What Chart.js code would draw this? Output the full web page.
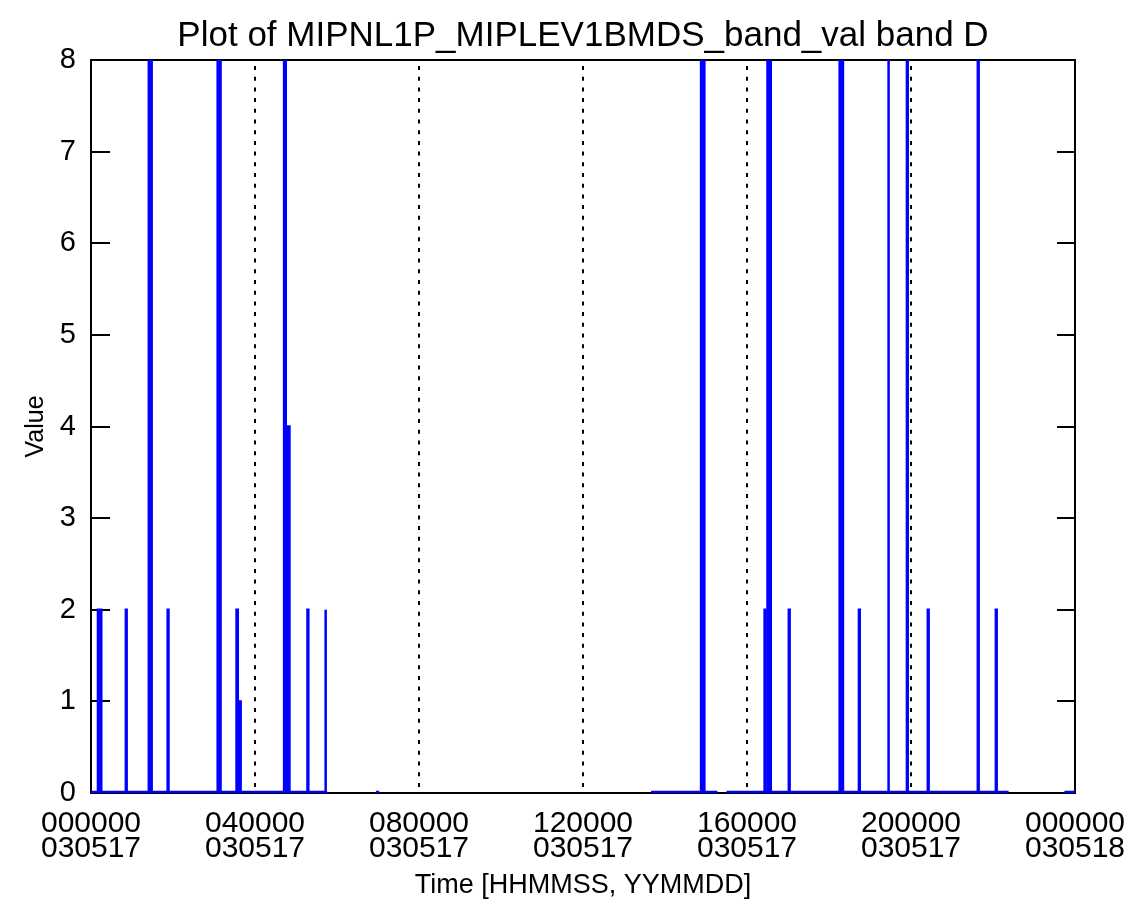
<!DOCTYPE html>
<html>
<head>
<meta charset="utf-8">
<title>MIPNL1P_MIPLEV1BMDS_band_val band D</title>
<script src="https://cdn.jsdelivr.net/npm/chart.js@4/dist/chart.umd.min.js"></script>
<style>
  html, body { margin: 0; padding: 0; background: #fff; }
  canvas { display: block; }
</style>
</head>
<body>
<canvas id="bandChart" width="1135" height="907"></canvas>
<script>
// time of day in hours (030517), null = no data
const hours = [
  0, 0.17, 0.17, 0.25, 0.25, 0.85, 0.85, 0.87, 0.87, 1.41, 1.41, 1.48, 1.48,
  1.87, 1.87, 1.89, 1.89, 3.09, 3.09, 3.16, 3.16, 3.55, 3.55, 3.58, 3.58, 3.65, 3.65,
  4.71, 4.71, 4.75, 4.75, 4.84, 4.84, 5.28, 5.28, 5.30, 5.30, 5.71, 5.71, 5.73, 5.73, 5.76,
  null,
  6.95, 7.03,
  null,
  13.66, 14.88, 14.88, 14.96, 14.96, 15.28,
  null,
  15.50, 16.43, 16.43, 16.45, 16.45, 16.50, 16.50, 16.58, 16.58,
  17.02, 17.02, 17.04, 17.04, 18.26, 18.26, 18.34, 18.34, 18.73, 18.73, 18.75, 18.75,
  19.44, 19.44, 19.46, 19.46, 19.90, 19.90, 19.92, 19.92, 20.41, 20.41, 20.43, 20.43,
  21.63, 21.63, 21.65, 21.65, 22.07, 22.07, 22.09, 22.09, 22.38,
  null,
  23.74, 24
];
const bandValues = [
  0, 0, 2, 2, 0, 0, 2, 2, 0, 0, 8, 8, 0,
  0, 2, 2, 0, 0, 8, 8, 0, 0, 2, 2, 1, 1, 0,
  0, 8, 8, 4, 4, 0, 0, 2, 2, 0, 0, 2, 2, 0, 0,
  null,
  0, 0,
  null,
  0, 0, 8, 8, 0, 0,
  null,
  0, 0, 2, 2, 0, 0, 8, 8, 0,
  0, 2, 2, 0, 0, 8, 8, 0, 0, 2, 2, 0,
  0, 8, 8, 0, 0, 8, 8, 0, 0, 2, 2, 0,
  0, 8, 8, 0, 0, 2, 2, 0, 0,
  null,
  0, 0
];
const xTickLabels = [
  ['000000', '030517'], ['040000', '030517'], ['080000', '030517'], ['120000', '030517'],
  ['160000', '030517'], ['200000', '030517'], ['000000', '030518']
];
const markerHours = [4, 8, 12, 16, 20];

const FONT = "'Liberation Sans', Arial, sans-serif";
Chart.defaults.font.family = FONT;
Chart.defaults.color = '#000';

// box, inward y ticks and the dotted time markers
const frameMarks = {
  id: 'frameMarks',
  beforeDatasetsDraw(chart) {
    const { ctx, chartArea: a, scales: { x, y } } = chart;
    ctx.save();
    ctx.strokeStyle = '#000';
    ctx.lineWidth = 2;
    ctx.setLineDash([4, 6.7]);
    markerHours.forEach(h => {
      const px = Math.round(x.getPixelForValue(h));
      ctx.beginPath();
      ctx.moveTo(px, a.top + 6);
      ctx.lineTo(px, a.bottom - 6);
      ctx.stroke();
    });
    ctx.setLineDash([]);
    ctx.strokeRect(a.left, a.top, a.right - a.left, a.bottom - a.top);
    ctx.beginPath();
    y.ticks.forEach(t => {
      const py = Math.round(y.getPixelForValue(t.value));
      ctx.moveTo(a.left, py); ctx.lineTo(a.left + 19, py);
      ctx.moveTo(a.right, py); ctx.lineTo(a.right - 18, py);
    });
    ctx.stroke();
    ctx.restore();
  }
};

// the flat zero stretches look heavier than the spikes in the original
const onBaseline = c => c.p0.parsed.y === 0 && c.p1.parsed.y === 0;

new Chart(document.getElementById('bandChart'), {
  type: 'line',
  data: {
    datasets: [{
      data: hours.map((h, i) => ({ x: h, y: bandValues[i] })),
      borderColor: '#0000ff',
      backgroundColor: '#0000ff',
      borderWidth: 2.5,
      fill: 'origin',
      pointRadius: 0,
      tension: 0,
      spanGaps: false,
      segment: { borderWidth: c => (onBaseline(c) ? 4.5 : undefined) }
    }]
  },
  options: {
    responsive: false,
    devicePixelRatio: 1,
    animation: false,
    layout: { padding: { left: 0, right: 60, top: 0, bottom: 0 } },
    plugins: {
      legend: { display: false },
      tooltip: { enabled: false },
      title: {
        display: true,
        fullSize: false,
        text: 'Plot of MIPNL1P_MIPLEV1BMDS_band_val band D',
        font: { size: 35, weight: 'normal' },
        padding: { top: 15, bottom: 3 }
      }
    },
    scales: {
      x: {
        type: 'linear',
        min: 0,
        max: 24,
        grid: { display: false, drawTicks: false },
        border: { display: false },
        ticks: {
          stepSize: 4,
          autoSkip: false,
          maxRotation: 0,
          padding: 18,
          font: { size: 30, lineHeight: 0.83 },
          callback: v => xTickLabels[Math.round(v / 4)]
        },
        title: {
          display: true,
          text: 'Time [HHMMSS, YYMMDD]',
          font: { size: 27 },
          padding: { top: 0, bottom: 5 }
        },
        afterFit: s => {
          s.height = 114;
          s.paddingLeft = 0;
          s.paddingRight = 0;
        }
      },
      y: {
        min: 0,
        max: 8,
        grid: { display: false, drawTicks: false },
        border: { display: false },
        ticks: { stepSize: 1, padding: 15, font: { size: 29 } },
        title: {
          display: true,
          text: 'Value',
          font: { size: 25 },
          padding: { top: 21, bottom: 0 }
        },
        afterFit: s => {
          s.width = 91;
          s.paddingTop = 0;
          s.paddingBottom = 0;
        }
      }
    }
  },
  plugins: [frameMarks]
});
</script>
</body>
</html>
